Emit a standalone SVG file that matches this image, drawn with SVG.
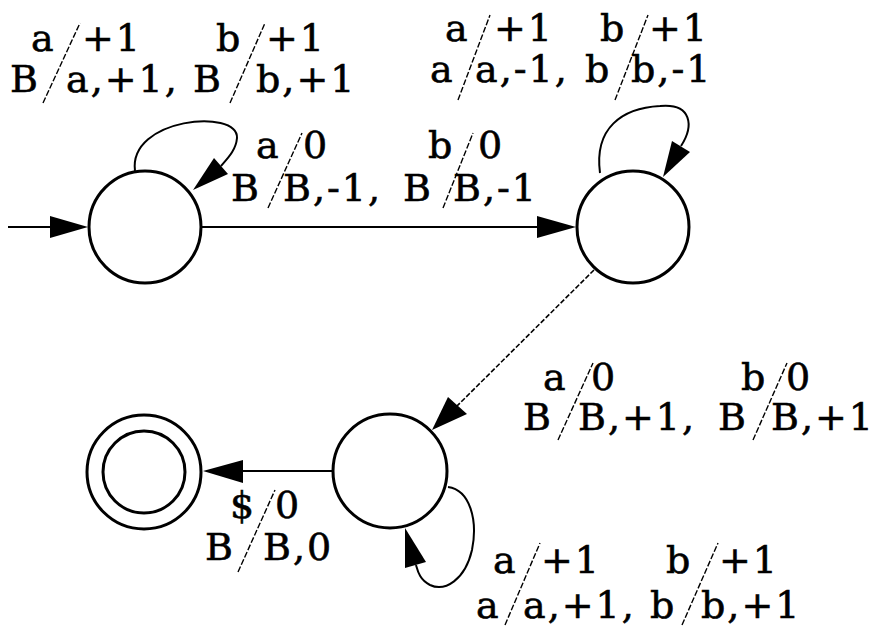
<svg xmlns="http://www.w3.org/2000/svg" width="878" height="628" viewBox="0 0 878 628">
<style>
.st{fill:#fff;stroke:#000;stroke-width:3}
.ln{fill:none;stroke:#000;stroke-width:2}
.dl{fill:none;stroke:#000;stroke-width:1.6;stroke-dasharray:5 2}
.ah{fill:#000;stroke:none}
.sl{stroke:#000;stroke-width:1.4;stroke-dasharray:6 2}
text{font-family:"DejaVu Serif","Liberation Serif",serif;font-size:38px;letter-spacing:2px;fill:#000;stroke:#000;stroke-width:0.6}
</style>
<rect width="878" height="628" fill="#fff"/>
<g id="q0"><circle class="st" cx="145" cy="227" r="56"/></g>
<g id="q1"><circle class="st" cx="633" cy="227" r="56"/></g>
<g id="q2"><circle class="st" cx="390" cy="471" r="57"/></g>
<g id="qf"><circle class="st" cx="144" cy="472" r="57"/><circle class="st" cx="144" cy="472" r="41"/></g>
<g id="connectors">
  <g id="start">
    <line class="ln" x1="8" y1="227" x2="60" y2="227"/>
    <polygon class="ah" points="88,227 50,216 50,238"/>
  </g>
  <g id="e-q0-q0">
    <path class="ln" d="M135,171 C128,118 238,108 237,138 C236,150 228,158 221,166"/>
    <polygon class="ah" points="193,190 214,158 228,174"/>
    <text x="31" y="51">a</text><text x="82" y="51">+1</text>
    <text x="216" y="51">b</text><text x="266" y="51">+1</text>
    <text x="10" y="92">B</text><text x="66" y="92">a,+1,</text>
    <text x="193" y="92">B</text><text x="256" y="92">b,+1</text>
    <line class="sl" x1="43" y1="103" x2="80" y2="23"/>
    <line class="sl" x1="230" y1="103" x2="265" y2="23"/>
  </g>
  <g id="e-q0-q1">
    <line class="ln" x1="202" y1="227" x2="545" y2="227"/>
    <polygon class="ah" points="576,227 537,216 537,238"/>
    <text x="256" y="158">a</text><text x="303" y="158">0</text>
    <text x="428" y="158">b</text><text x="478" y="158">0</text>
    <text x="231" y="201">B</text><text x="283" y="201">B,-1,</text>
    <text x="403" y="201">B</text><text x="453" y="201">B,-1</text>
    <line class="sl" x1="268" y1="208" x2="302" y2="133"/>
    <line class="sl" x1="443" y1="208" x2="473" y2="133"/>
  </g>
  <g id="e-q1-q1">
    <path class="ln" d="M600,173 C594,128 622,108 660,106 C692,103 694,126 681,146"/>
    <polygon class="ah" points="663,177 672,141 690,152"/>
    <text x="445" y="41">a</text><text x="494" y="41">+1</text>
    <text x="600" y="41">b</text><text x="649" y="41">+1</text>
    <text x="430" y="82">a</text><text x="475" y="82">a,-1,</text>
    <text x="585" y="82">b</text><text x="631" y="82">b,-1</text>
    <line class="sl" x1="458" y1="100" x2="490" y2="15"/>
    <line class="sl" x1="615" y1="100" x2="648" y2="15"/>
  </g>
  <g id="e-q1-q2">
    <line class="dl" x1="594" y1="270" x2="455" y2="408"/>
    <polygon class="ah" points="432,430 448,397 467,414"/>
    <text x="543" y="390">a</text><text x="591" y="390">0</text>
    <text x="741" y="390">b</text><text x="786" y="390">0</text>
    <text x="523" y="430">B</text><text x="578" y="430">B,+1,</text>
    <text x="718" y="430">B</text><text x="771" y="430">B,+1</text>
    <line class="sl" x1="558" y1="440" x2="593" y2="363"/>
    <line class="sl" x1="753" y1="440" x2="787" y2="363"/>
  </g>
  <g id="e-q2-q2">
    <path class="ln" d="M448,487 C470,490 478,520 472,550 C465,580 445,592 430,585 C420,580 418,572 416,565"/>
    <polygon class="ah" points="405,528 426,562 405,568"/>
    <text x="493" y="573">a</text><text x="541" y="573">+1</text>
    <text x="666" y="573">b</text><text x="719" y="573">+1</text>
    <text x="476" y="618">a</text><text x="523" y="618">a,+1,</text>
    <text x="650" y="618">b</text><text x="701" y="618">b,+1</text>
    <line class="sl" x1="505" y1="625" x2="540" y2="543"/>
    <line class="sl" x1="682" y1="625" x2="718" y2="543"/>
  </g>
  <g id="e-q2-qf">
    <line class="ln" x1="333" y1="471" x2="235" y2="471"/>
    <polygon class="ah" points="203,471 243,460 243,483"/>
    <text x="230" y="518">$</text><text x="275" y="518">0</text>
    <text x="205" y="560">B</text><text x="263" y="560">B,0</text>
    <line class="sl" x1="238" y1="572" x2="275" y2="490"/>
  </g>
</g>
</svg>
